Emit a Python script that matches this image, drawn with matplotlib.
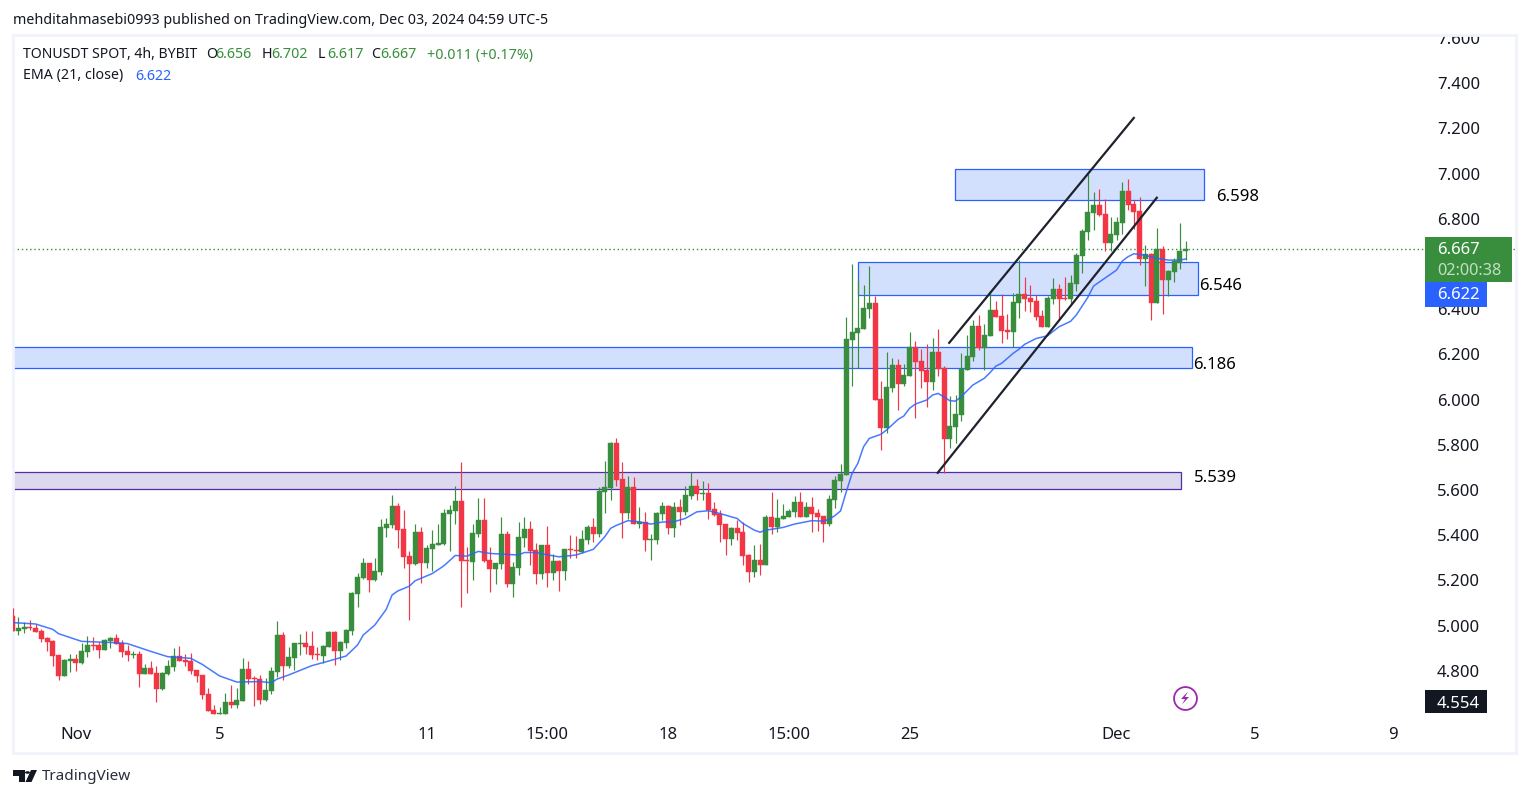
import matplotlib
matplotlib.use("Agg")
import matplotlib.pyplot as plt
import numpy as np
from matplotlib.patches import Circle, Polygon, Rectangle

plt.rcParams["font.family"] = ["Noto Sans", "DejaVu Sans"]

W, H = 1529, 798
GREEN = "#388e3c"
RED = "#f23645"
BLUE = "#2962ff"
DARK = "#131722"
BORDER = "#f0f3fa"

opens = [
    5.042, 4.977, 4.986, 4.995, 4.989, 4.976, 4.945, 4.932, 4.870, 4.777,
    4.843, 4.852, 4.834, 4.883, 4.914, 4.914, 4.892, 4.932, 4.945, 4.923,
    4.887, 4.871, 4.874, 4.786, 4.812, 4.790, 4.719, 4.786, 4.817, 4.865,
    4.847, 4.843, 4.803, 4.781, 4.697, 4.626, 4.609, 4.609, 4.662, 4.648,
    4.666, 4.808, 4.768, 4.763, 4.671, 4.710, 4.794, 4.958, 4.821, 4.856,
    4.918, 4.923, 4.909, 4.874, 4.865, 4.905, 4.971, 4.887, 4.923, 4.976,
    5.140, 5.210, 5.277, 5.201, 5.237, 5.432, 5.445, 5.529, 5.427, 5.307,
    5.272, 5.413, 5.276, 5.338, 5.356, 5.360, 5.493, 5.506, 5.551, 5.289,
    5.281, 5.405, 5.466, 5.289, 5.250, 5.272, 5.405, 5.183, 5.254, 5.387,
    5.427, 5.334, 5.228, 5.356, 5.232, 5.285, 5.241, 5.338, 5.334, 5.325,
    5.378, 5.436, 5.405, 5.590, 5.608, 5.807, 5.648, 5.497, 5.613, 5.449,
    5.458, 5.378, 5.378, 5.493, 5.528, 5.431, 5.524, 5.502, 5.573, 5.617,
    5.582, 5.586, 5.515, 5.493, 5.449, 5.382, 5.431, 5.413, 5.312, 5.236,
    5.289, 5.267, 5.480, 5.436, 5.471, 5.480, 5.502, 5.546, 5.480, 5.524,
    5.497, 5.484, 5.449, 5.555, 5.639, 5.666, 6.263, 6.294, 6.312, 6.400,
    6.427, 6.002, 5.874, 6.051, 6.153, 6.069, 6.104, 6.232, 6.170, 6.130,
    6.077, 6.210, 6.139, 5.825, 5.878, 5.931, 6.130, 6.188, 6.325, 6.228,
    6.281, 6.396, 6.369, 6.308, 6.299, 6.427, 6.467, 6.449, 6.436, 6.369,
    6.321, 6.445, 6.489, 6.449, 6.445, 6.511, 6.635, 6.741, 6.825, 6.861,
    6.821, 6.692, 6.728, 6.781, 6.922, 6.865, 6.834, 6.622, 6.644, 6.427,
    6.666, 6.529, 6.564, 6.604, 6.656,
]
closes = [
    4.977, 4.989, 4.994, 4.991, 4.971, 4.942, 4.927, 4.865, 4.777, 4.847,
    4.852, 4.834, 4.887, 4.914, 4.909, 4.892, 4.936, 4.945, 4.918, 4.883,
    4.870, 4.874, 4.786, 4.812, 4.786, 4.719, 4.790, 4.821, 4.865, 4.843,
    4.839, 4.799, 4.777, 4.693, 4.622, 4.609, 4.611, 4.662, 4.648, 4.671,
    4.808, 4.763, 4.763, 4.671, 4.715, 4.799, 4.958, 4.821, 4.861, 4.923,
    4.923, 4.905, 4.870, 4.870, 4.909, 4.971, 4.887, 4.927, 4.980, 5.144,
    5.215, 5.277, 5.201, 5.241, 5.436, 5.449, 5.529, 5.423, 5.303, 5.272,
    5.413, 5.276, 5.343, 5.360, 5.365, 5.497, 5.511, 5.551, 5.285, 5.285,
    5.409, 5.466, 5.285, 5.250, 5.276, 5.405, 5.183, 5.259, 5.391, 5.427,
    5.329, 5.228, 5.356, 5.232, 5.285, 5.241, 5.338, 5.334, 5.329, 5.382,
    5.436, 5.405, 5.595, 5.613, 5.807, 5.643, 5.497, 5.613, 5.449, 5.458,
    5.378, 5.382, 5.497, 5.528, 5.431, 5.524, 5.502, 5.577, 5.617, 5.582,
    5.586, 5.511, 5.489, 5.444, 5.382, 5.431, 5.409, 5.307, 5.236, 5.289,
    5.267, 5.480, 5.436, 5.475, 5.484, 5.506, 5.546, 5.480, 5.524, 5.493,
    5.480, 5.449, 5.560, 5.644, 5.670, 6.268, 6.299, 6.316, 6.405, 6.427,
    5.998, 5.874, 6.055, 6.153, 6.069, 6.108, 6.232, 6.166, 6.126, 6.077,
    6.210, 6.135, 5.825, 5.883, 5.936, 6.135, 6.192, 6.325, 6.228, 6.285,
    6.396, 6.365, 6.303, 6.299, 6.431, 6.467, 6.445, 6.431, 6.365, 6.321,
    6.449, 6.489, 6.445, 6.445, 6.515, 6.639, 6.745, 6.830, 6.861, 6.816,
    6.692, 6.732, 6.785, 6.922, 6.861, 6.830, 6.622, 6.644, 6.427, 6.666,
    6.529, 6.569, 6.613, 6.657, 6.667,
]
highs = [
    5.076, 5.038, 5.016, 5.024, 5.007, 4.983, 4.949, 4.936, 4.870, 4.850,
    4.874, 4.874, 4.923, 4.954, 4.949, 4.927, 4.939, 4.949, 4.963, 4.936,
    4.914, 4.887, 4.887, 4.830, 4.843, 4.821, 4.794, 4.847, 4.901, 4.909,
    4.874, 4.879, 4.803, 4.781, 4.724, 4.648, 4.640, 4.700, 4.737, 4.724,
    4.856, 4.843, 4.777, 4.781, 4.768, 4.817, 5.020, 4.971, 4.905, 4.923,
    4.963, 4.976, 4.976, 4.905, 4.914, 4.976, 4.976, 4.932, 4.985, 5.148,
    5.232, 5.299, 5.277, 5.299, 5.471, 5.476, 5.578, 5.542, 5.511, 5.329,
    5.449, 5.436, 5.356, 5.422, 5.449, 5.515, 5.533, 5.617, 5.723, 5.347,
    5.449, 5.564, 5.564, 5.347, 5.276, 5.480, 5.418, 5.281, 5.458, 5.480,
    5.462, 5.365, 5.356, 5.440, 5.316, 5.289, 5.338, 5.400, 5.396, 5.422,
    5.444, 5.475, 5.613, 5.728, 5.812, 5.829, 5.723, 5.661, 5.657, 5.524,
    5.502, 5.405, 5.502, 5.546, 5.533, 5.546, 5.559, 5.617, 5.679, 5.648,
    5.639, 5.630, 5.546, 5.511, 5.449, 5.436, 5.466, 5.458, 5.316, 5.356,
    5.360, 5.489, 5.590, 5.559, 5.537, 5.515, 5.573, 5.590, 5.546, 5.568,
    5.515, 5.484, 5.577, 5.661, 5.715, 6.365, 6.600, 6.533, 6.507, 6.591,
    6.458, 6.082, 6.210, 6.184, 6.179, 6.157, 6.299, 6.259, 6.223, 6.245,
    6.272, 6.312, 6.148, 6.015, 6.020, 6.206, 6.285, 6.352, 6.374, 6.334,
    6.480, 6.436, 6.467, 6.378, 6.471, 6.617, 6.542, 6.507, 6.462, 6.396,
    6.458, 6.538, 6.511, 6.542, 6.551, 6.648, 6.754, 6.998, 6.918, 6.931,
    6.887, 6.807, 6.807, 6.962, 6.976, 6.883, 6.896, 6.684, 6.648, 6.759,
    6.679, 6.573, 6.626, 6.781, 6.702,
]
lows = [
    4.977, 4.958, 4.968, 4.980, 4.971, 4.927, 4.887, 4.821, 4.759, 4.777,
    4.794, 4.799, 4.830, 4.861, 4.892, 4.856, 4.892, 4.901, 4.918, 4.861,
    4.843, 4.856, 4.728, 4.786, 4.786, 4.662, 4.715, 4.781, 4.799, 4.843,
    4.821, 4.786, 4.750, 4.675, 4.622, 4.609, 4.609, 4.609, 4.635, 4.635,
    4.666, 4.741, 4.644, 4.653, 4.666, 4.697, 4.772, 4.759, 4.812, 4.803,
    4.870, 4.874, 4.852, 4.847, 4.834, 4.905, 4.825, 4.847, 4.901, 4.958,
    5.082, 5.206, 5.148, 5.197, 5.224, 5.392, 5.432, 5.343, 5.254, 5.024,
    5.267, 5.188, 5.254, 5.241, 5.356, 5.356, 5.329, 5.449, 5.082, 5.143,
    5.201, 5.391, 5.281, 5.148, 5.183, 5.250, 5.170, 5.126, 5.223, 5.347,
    5.267, 5.183, 5.205, 5.170, 5.201, 5.152, 5.201, 5.298, 5.298, 5.320,
    5.360, 5.369, 5.391, 5.497, 5.555, 5.617, 5.387, 5.471, 5.449, 5.431,
    5.329, 5.289, 5.360, 5.466, 5.405, 5.391, 5.444, 5.489, 5.559, 5.555,
    5.555, 5.471, 5.484, 5.369, 5.312, 5.356, 5.378, 5.267, 5.192, 5.214,
    5.223, 5.267, 5.405, 5.413, 5.471, 5.480, 5.480, 5.480, 5.480, 5.413,
    5.418, 5.369, 5.440, 5.520, 5.591, 5.666, 6.060, 6.139, 6.312, 6.361,
    5.998, 5.776, 5.852, 6.033, 5.954, 6.060, 6.104, 5.918, 6.051, 5.967,
    6.042, 6.104, 5.675, 5.785, 5.807, 5.905, 6.130, 6.170, 6.219, 6.130,
    6.281, 6.365, 6.250, 6.268, 6.232, 6.360, 6.391, 6.387, 6.352, 6.321,
    6.321, 6.423, 6.352, 6.440, 6.423, 6.480, 6.560, 6.706, 6.750, 6.812,
    6.657, 6.657, 6.706, 6.732, 6.838, 6.754, 6.595, 6.502, 6.352, 6.427,
    6.378, 6.458, 6.520, 6.578, 6.617,
]

ema_idx = [
    0, 4, 7, 8, 12, 16, 18, 20, 24, 27, 31, 33, 36, 39, 43, 45, 46, 48, 52, 55,
    58, 60, 61, 63, 65, 66, 67, 69, 70, 73, 75, 77, 79, 81, 83, 85, 88, 89, 91,
    93, 95, 98, 101, 103, 104, 105, 107, 109, 111, 113, 115, 117, 119, 121, 123,
    125, 126, 127, 129, 130, 131, 134, 136, 139, 141, 142, 143, 144, 145, 146,
    147, 148, 149, 151, 152, 154, 155, 156, 157, 159, 160, 161, 162, 163, 164,
    165, 167, 169, 170, 171, 172, 174, 175, 176, 178, 180, 182, 184, 185, 187,
    188, 189, 191, 192, 193, 194, 195, 197, 199, 201, 203, 204,
]
ema_vals = [
    5.013, 5.007, 4.983, 4.964, 4.930, 4.926, 4.924, 4.920, 4.886, 4.862,
    4.855, 4.828, 4.777, 4.750, 4.752, 4.747, 4.763, 4.781, 4.822, 4.843,
    4.865, 4.914, 4.958, 5.002, 5.072, 5.135, 5.153, 5.174, 5.198, 5.230,
    5.264, 5.310, 5.307, 5.328, 5.319, 5.316, 5.312, 5.323, 5.323, 5.313,
    5.304, 5.312, 5.337, 5.393, 5.430, 5.443, 5.464, 5.459, 5.449, 5.458,
    5.459, 5.474, 5.503, 5.508, 5.496, 5.481, 5.474, 5.452, 5.422, 5.413,
    5.422, 5.434, 5.449, 5.464, 5.462, 5.470, 5.486, 5.507, 5.592, 5.673,
    5.717, 5.791, 5.828, 5.846, 5.865, 5.912, 5.927, 5.961, 5.980, 5.998,
    6.020, 6.027, 6.011, 5.995, 5.993, 6.013, 6.064, 6.094, 6.119, 6.148,
    6.160, 6.204, 6.222, 6.244, 6.270, 6.282, 6.322, 6.346, 6.374, 6.452,
    6.502, 6.520, 6.555, 6.573, 6.613, 6.632, 6.645, 6.638, 6.625, 6.617,
    6.617, 6.622,
]

# zones: start bar, end bar, low, high
zone_starts = [163.9, 147.1, -5, -5]
zone_ends = [207.2, 206.1, 205.1, 203.2]
zone_lows = [6.883, 6.461, 6.138, 5.603]
zone_highs = [7.020, 6.610, 6.231, 5.678]

zone_text = ["6.598", "6.546", "6.186", "5.539"]
zone_text_x = [209.4, 206.3, 205.4, 205.4]
zone_text_y = [6.897, 6.503, 6.153, 5.654]

# channel lines as (bar, price) ends
channel_x = [[162.9, 195.0], [160.9, 199.0]]
channel_y = [[6.251, 7.246], [5.676, 6.893]]

price_ticks = [4.8, 5.0, 5.2, 5.4, 5.6, 5.8, 6.0, 6.2, 6.4, 6.6, 6.8, 7.0, 7.2, 7.4, 7.6]
time_ticks = [11, 36, 72, 93, 114, 135, 156, 192, 216, 240]
time_labels = ["Nov", "5", "11", "15:00", "18", "15:00", "25", "Dec", "5", "9"]
last_price = 6.667


def px_text(x, y, s, **kw):
    kw.setdefault("color", DARK)
    kw.setdefault("fontsize", 10.25)
    kw.setdefault("va", "center")
    return fig.text(x / W, 1 - y / H, s, **kw)


def px_box(x0, y0, x1, y1, color):
    fig.add_artist(Rectangle((x0 / W, 1 - y1 / H), (x1 - x0) / W, (y1 - y0) / H,
                             transform=fig.transFigure, facecolor=color, edgecolor="none", zorder=3))


def px_poly(points, color):
    pts = [(x / W, 1 - y / H) for x, y in points]
    fig.add_artist(Polygon(pts, closed=True, transform=fig.transFigure, facecolor=color,
                           edgecolor="none", zorder=3))


fig = plt.figure(figsize=(W / 100, H / 100), dpi=100, facecolor="white")
ax = fig.add_axes([13 / W, 1 - 753 / H, (1516 - 13) / W, (753 - 35) / H])
ax.set_xlim(0.08, 261.47)
ax.set_ylim(4.436, 7.613)

for s in ax.spines.values():
    s.set_color(BORDER)
    s.set_linewidth(2)

# zones
for i in range(4):
    edge = "#512da8" if i == 3 else BLUE
    fill = "#dcd8ee" if i == 3 else "#d2dffd"
    ax.add_patch(Rectangle((zone_starts[i], zone_lows[i]), zone_ends[i] - zone_starts[i],
                           zone_highs[i] - zone_lows[i], facecolor=fill, edgecolor=edge,
                           linewidth=0.9, zorder=1))
    ax.text(zone_text_x[i], zone_text_y[i], zone_text[i], color="black", fontsize=12,
            va="center", zorder=6)

# candles
bars = np.arange(len(opens))
o = np.array(opens)
c = np.array(closes)
colors = [GREEN if c[i] >= o[i] else RED for i in bars]
ax.vlines(bars, lows, highs, colors=colors, linewidth=0.85, zorder=3)
ax.bar(bars, np.abs(c - o), bottom=np.minimum(o, c), width=0.88, color=colors, linewidth=0.3,
       edgecolor=colors, zorder=3)

ax.plot(ema_idx, ema_vals, color=BLUE, linewidth=1.1, alpha=0.85, zorder=4)
ax.axhline(last_price, color=GREEN, linestyle=(0, (1, 2)), linewidth=1.0, zorder=2)

for xs, ys in zip(channel_x, channel_y):
    ax.plot(xs, ys, color="#1e222d", linewidth=1.6, zorder=5)

# price scale sits inside the frame, like the chart
ax.yaxis.tick_right()
ax.set_yticks(price_ticks)
ax.set_yticklabels([f"{v:.3f}" for v in price_ticks])
ax.tick_params(axis="y", length=0, pad=-57, labelsize=12, labelcolor=DARK)
for lab in ax.get_yticklabels():
    lab.set_ha("left")
    lab.set_clip_box(ax.bbox)
    lab.set_clip_on(True)

ax.set_xticks(time_ticks)
ax.set_xticklabels(time_labels)
ax.tick_params(axis="x", length=0, pad=-19, labelsize=12, labelcolor=DARK)
for lab in ax.get_xticklabels():
    if lab.get_text() in ("Nov", "Dec"):
        lab.set_fontweight("bold")

# header
px_text(13, 20, "mehditahmasebi0993 published on TradingView.com, Dec 03, 2024 04:59 UTC-5")
px_text(23, 55, "TONUSDT SPOT, 4h, BYBIT", fontsize=10.1)
for x, lab, val in [(206, "O", "6.656"), (262, "H", "6.702"), (318, "L", "6.617"), (371, "C", "6.667")]:
    px_text(x, 55, lab)
    px_text(x + 9.5, 55, val, color=GREEN)
px_text(427, 55, "+0.011 (+0.17%)", color=GREEN)
px_text(23, 76, "EMA (21, close)")
px_text(135, 76, "6.622", color=BLUE)

# price labels on the scale
px_box(1425, 237, 1512, 282, GREEN)
px_box(1425, 282, 1487, 306.5, BLUE)
px_box(1425, 690, 1487, 713, DARK)
px_text(1437, 250, "6.667", color="white", fontsize=12, fontweight="semibold", zorder=4)
px_text(1437, 271, "02:00:38", color="#c3ddc4", fontsize=11.8, zorder=4)
px_text(1437, 295, "6.622", color="white", fontsize=12, fontweight="semibold", zorder=4)
px_text(1437, 703.5, "4.554", color="white", fontsize=12, fontweight="semibold", zorder=4)

# lightning badge
ax.plot([(1185 - 12.55) / 5.75], [7 - (698 - 173.5) / 226], marker="o", markersize=16.5,
        markerfacecolor="white", markeredgecolor="#9c27b0", markeredgewidth=1.3, zorder=6)
px_poly([(1188, 691.5), (1181, 699), (1185, 699), (1182, 704.5), (1189, 697), (1185, 697)], "#9c27b0")

# TradingView logo
px_poly([(13, 770), (25, 770), (25, 782), (19, 782), (19, 775.5), (13, 775.5)], DARK)
px_poly([(37, 770), (31.5, 782), (25.5, 782), (31, 770)], DARK)
fig.add_artist(Circle((27.5 / W, 1 - 772.5 / H), 2.5 / W, transform=fig.transFigure,
                      facecolor=DARK, edgecolor="none", zorder=3))
px_text(42, 777, "TradingView", fontsize=11, color="#2a2e39")

fig.savefig("out.png", dpi=100)
